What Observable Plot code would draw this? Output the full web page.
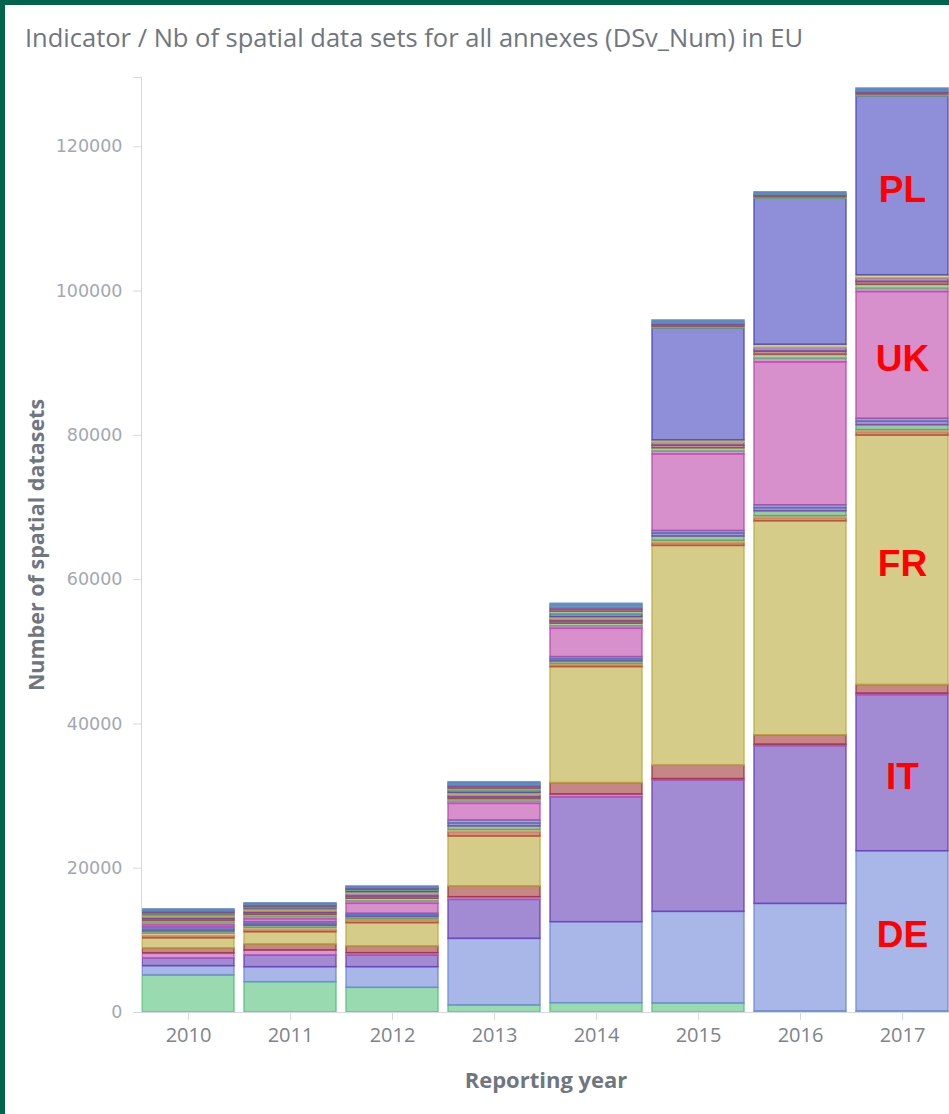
<!DOCTYPE html>
<html><head><meta charset="utf-8">
<script src="https://cdn.jsdelivr.net/npm/d3@7"></script>
<script src="https://cdn.jsdelivr.net/npm/@observablehq/plot@0.6"></script>
<style>
html,body{margin:0;padding:0;overflow:hidden;background:#fff;width:949px;height:1114px;}
#frame{position:absolute;left:0;top:0;width:949px;height:1114px;border-left:5px solid #00644f;border-top:5px solid #00644f;box-sizing:border-box;pointer-events:none;z-index:3}
#title{position:absolute;left:25px;top:20px;font-family:"Open Sans",sans-serif;font-size:25.5px;color:#6f7680;white-space:nowrap;z-index:2}
#chart{position:absolute;left:0;top:0;z-index:1;width:960px;height:1114px}
#chart svg{max-width:none !important;width:960px !important;height:1114px !important}
</style></head><body>
<div id="chart"></div>
<div id="title">Indicator / Nb of spatial data sets for all annexes (DSv_Num) in EU</div>
<div id="frame"></div>
<script>
const years = ["2010","2011","2012","2013","2014","2015","2016","2017"];
const countries = ["NL","DE","IT","LU","ES","FR","BE","EE","AT","CZ","DK","UK","FI","HU","LT","SK","RO","PL","SE","PT","IE","SI","GR"];
const colors = ["#57c17b","#6f87d8","#663db8","#bc52bc","#9e3533","#bbaa3c","#b5473a","#daa05d","#4fa860","#7a45b5","#447ebc","#bc46a8","#c24fb8","#5fb86a","#a8403d","#6c4ab0","#c9b244","#4344be","#62b56e","#a5443f","#7c4bb6","#4a9fb5","#5c7fc0"];

const vNL = [5130, 4200, 3420, 970, 1290, 1250, 150, 150];
const vDE = [1290, 2080, 2860, 9240, 11230, 12700, 14900, 22200];
const vIT = [1070, 1620, 1620, 5400, 17330, 18200, 21870, 21640];
const vLU = [700, 690, 320, 370, 370, 200, 200, 200];
const vES = [700, 830, 930, 1480, 1570, 1870, 1300, 1200];
const vFR = [1390, 1700, 3230, 6930, 16080, 30450, 29660, 34570];
const vBE = [300, 300, 350, 600, 250, 400, 400, 450];
const vEE = [350, 300, 200, 300, 200, 300, 300, 300];
const vAT = [300, 300, 300, 500, 350, 600, 700, 700];
const vCZ = [250, 250, 250, 420, 290, 420, 430, 480];
const vDK = [300, 250, 200, 400, 300, 350, 400, 400];
const vUK = [300, 400, 1390, 2310, 3930, 10620, 19800, 17570];
const vFI = [300, 300, 350, 300, 350, 400, 500, 450];
const vHU = [300, 300, 350, 350, 350, 450, 550, 550];
const vLT = [250, 250, 300, 250, 300, 350, 450, 400];
const vSK = [300, 300, 350, 350, 350, 420, 500, 500];
const vRO = [250, 250, 250, 250, 250, 320, 440, 420];
const vPL = [100, 150, 200, 300, 400, 15510, 20250, 24800];
const vSE = [150, 150, 150, 300, 350, 250, 200, 250];
const vPT = [150, 130, 120, 250, 300, 230, 180, 220];
const vIE = [150, 130, 120, 250, 300, 220, 170, 220];
const vSI = [130, 130, 110, 200, 270, 220, 170, 210];
const vGR = [140, 130, 100, 200, 250, 200, 170, 200];

const yTicks = [0, 20000, 40000, 60000, 80000, 100000, 120000];
const yTop = 129600;
const labelled = ["PL","UK","FR","IT","DE"];
const labelYear = "2017";

const seriesValues = [vNL,vDE,vIT,vLU,vES,vFR,vBE,vEE,vAT,vCZ,vDK,vUK,vFI,vHU,vLT,vSK,vRO,vPL,vSE,vPT,vIE,vSI,vGR];
const rows = countries.flatMap((c, i) => years.map((y, j) => ({year: y, country: c, value: seriesValues[i][j]})));

const axisColor = "#d3dae6";

const chart = Plot.plot({
  width: 960, height: 1114,
  marginTop: 77, marginBottom: 102, marginLeft: 141, marginRight: 0,
  style: {background: "transparent", fontFamily: "'Open Sans', sans-serif", maxWidth: "none"},
  x: {domain: years, range: [136, 953.5], paddingInner: 0.1, paddingOuter: 0.05, axis: null},
  y: {domain: [0, yTop], axis: null},
  color: {domain: countries, range: colors},
  marks: [
    Plot.barY(rows, {x: "year", y: "value", z: "country", fill: "country", stroke: "country",
      fillOpacity: 0.6, strokeOpacity: 0.8, strokeWidth: 1.5, insetLeft: 0, insetRight: 0}),
    Plot.frame({anchor: "left", stroke: axisColor}),
    Plot.ruleY([0], {stroke: axisColor}),
    Plot.axisY({ticks: [...yTicks, yTop], tickSize: 8, tickPadding: 11,
      tickFormat: d => d === yTop ? "" : String(d),
      fontSize: 17.5, fontFamily: "DejaVu Sans", fill: "#a2a8b2", stroke: axisColor, label: null}),
    Plot.axisX({tickSize: 8, tickPadding: 7, fontSize: 20, fill: "#7d838c", stroke: axisColor, label: null}),
    Plot.text(["Number of spatial datasets"], {frameAnchor: "left", rotate: -90, dx: -104,
      textAnchor: "middle", lineAnchor: "middle",
      fontSize: 21.5, fontWeight: "bold", fill: "#6f7680"}),
    Plot.text(["Reporting year"], {frameAnchor: "bottom", dy: 68, dx: -5,
      textAnchor: "middle", lineAnchor: "middle",
      fontSize: 22, fontWeight: "bold", fill: "#6f7680"}),
    Plot.text(rows, Plot.stackY({x: "year", y: "value", z: "country",
      text: d => (d.year === labelYear && labelled.includes(d.country)) ? d.country : "",
      fill: "#ff0000", fontSize: 37, fontWeight: "bold", fontFamily: "Liberation Sans", dy: 4}))
  ]
});
document.getElementById("chart").appendChild(chart);
</script></body></html>
